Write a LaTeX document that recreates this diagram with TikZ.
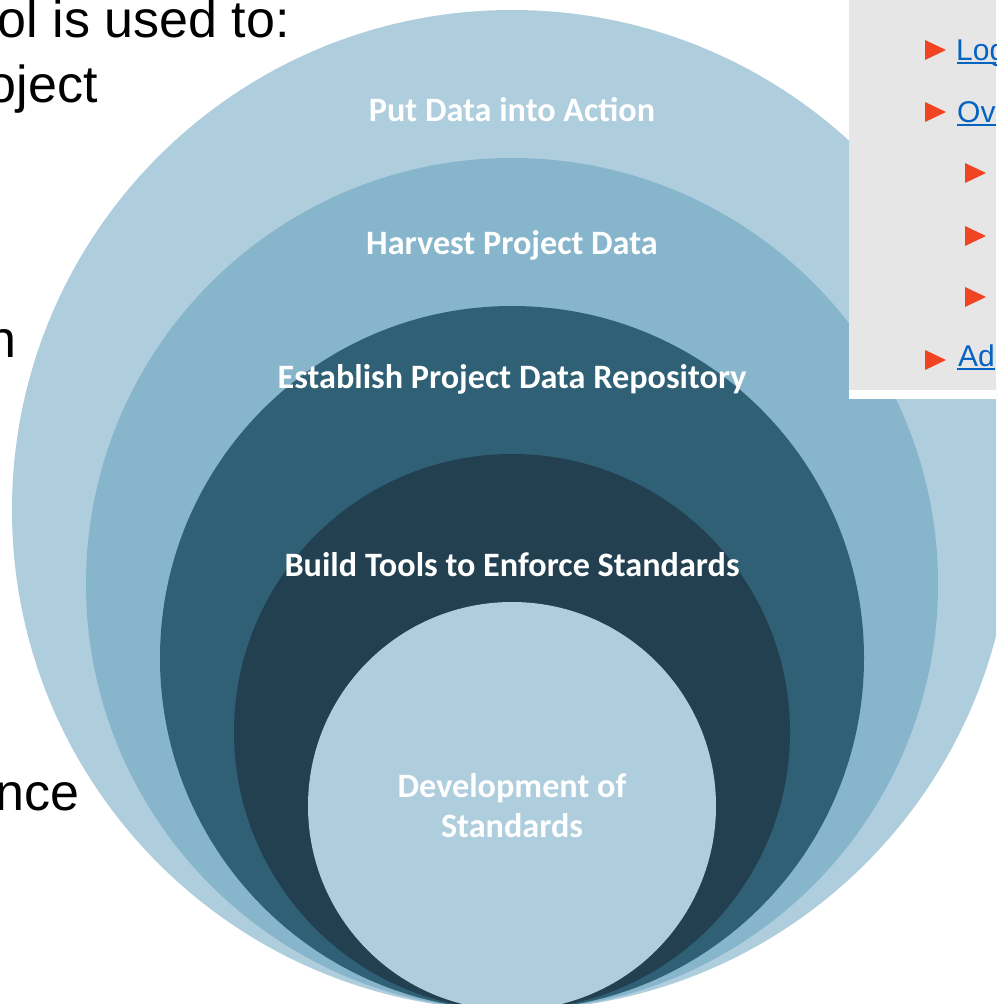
\documentclass[tikz,border=0pt]{standalone}
\usepackage{fontspec}
\setmainfont{Liberation Sans}
\newfontfamily\calibri{Carlito}
\definecolor{ringlight}{HTML}{AECDDD}
\definecolor{ringmid}{HTML}{87B5CB}
\definecolor{ringdark}{HTML}{2F6075}
\definecolor{ringdeep}{HTML}{22404F}
\definecolor{panelgrey}{HTML}{E6E6E6}
\definecolor{linkblue}{HTML}{0563C1}
\definecolor{bulletred}{HTML}{F04423}

\begin{document}
\begin{tikzpicture}[x=1pt, y=-1pt,
		ring/.style={font=\calibri\bfseries\fontsize{34.2}{40}\selectfont, text=white, inner sep=0pt, anchor=base, align=center},
		slide/.style={font=\fontsize{52}{62}\selectfont, inner sep=0pt, anchor=base east},
		link/.style={font=\fontsize{30}{36}\selectfont, text=linkblue, inner sep=0pt, anchor=base west},
		bullet/.style={fill=bulletred}]
		\useasboundingbox (0, 0) rectangle (996, 1004);
		\clip (0, 0) rectangle (996, 1004);
		% nested circles, all touching at the bottom
		\fill[ringlight](512, 510)circle(500pt);
		\fill[ringmid](512, 584)circle(426pt);
		\fill[ringdark](512, 658)circle(352pt);
		\fill[ringdeep](512, 732)circle(278pt);
		\fill[ringlight](512, 806)circle(204pt);
		\node[ring](action)at(512, 121){Put Data into Action};
		\node[ring](harvest)at(512, 254){Harvest Project Data};
		\node[ring](repo)at(512, 388){Establish Project Data Repository};
		\node[ring](tools)at(512, 576){Build Tools to Enforce Standards};
		\node[ring](develop)at(512, 837){Development of\\Standards};
		% slide text cut off on the left
		\node[slide](tool)at(290, 37){ol is used to:};
		\node[slide](project)at(98, 102){oject};
		\node[slide](lineN)at(17, 357){n};
		\node[slide](lineNce)at(80, 810){nce};
		% side panel
		\fill[white](849, 390)rectangle(996, 399);
		\fill[panelgrey](849, -5)rectangle(996, 390);
		\fill[bullet](925, 40)--++(21, 10)--++(-21, 10)--cycle;
		\fill[bullet](925, 102)--++(21, 10)--++(-21, 10)--cycle;
		\fill[bullet](965, 163)--++(21, 10)--++(-21, 10)--cycle;
		\fill[bullet](965, 226)--++(21, 10)--++(-21, 10)--cycle;
		\fill[bullet](965, 287)--++(21, 10)--++(-21, 10)--cycle;
		\fill[bullet](925, 350)--++(21, 10)--++(-21, 10)--cycle;
		\node[link](log)at(956, 60){Log};
		\node[link](ov)at(957, 122){Ov};
		\node[link](ad)at(958, 366){Ad};
		\draw[linkblue, line width=2pt]([shift={(1, 3)}]log.base west)--([shift={(0, 3)}]log.base east);
		\draw[linkblue, line width=2pt]([shift={(0, 3)}]ov.base west)--([shift={(0, 3)}]ov.base east);
		\draw[linkblue, line width=2pt]([shift={(-1, 3)}]ad.base west)--([shift={(0, 3)}]ad.base east);
	\end{tikzpicture}
\end{document}
